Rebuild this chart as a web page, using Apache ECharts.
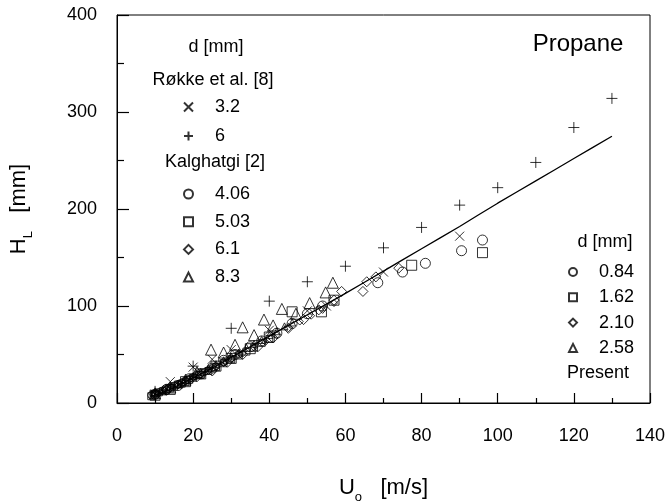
<!DOCTYPE html>
<html>
<head>
<meta charset="utf-8">
<script src="https://cdn.jsdelivr.net/npm/echarts@6/dist/echarts.min.js"></script>
<style>
    html, body { margin: 0; padding: 0; background: #fff; }
    #chart { width: 666px; height: 502px; }
</style>
</head>
<body>
<div id="chart"></div>
<script>
//刻度
const xTicks = [0, 20, 40, 60, 80, 100, 120, 140];
const yTicks = [0, 100, 200, 300, 400];

//Røkke et al. [8]
const rokke32 = [[10, 9], [14, 22], [20, 37], [25, 45], [30, 55], [40, 75], [50, 95], [55, 100], [70, 135], [90, 172]];
const rokke6 = [[10, 12], [20, 38], [30, 77], [40, 105], [50, 125], [60, 141], [70, 160], [80, 181], [90, 204], [100, 222], [110, 248], [120, 284], [130, 314]];

//Kalghatgi [2]
const kal406 = [[10, 9], [13, 14], [16, 18], [19, 25], [22, 30], [25, 36], [28, 44], [31, 50], [35, 58], [38, 64], [42, 72], [46, 82], [50, 92], [54, 100], [68.5, 124], [75, 135], [81, 144], [90.5, 157], [96, 168]];
const kal503 = [[10, 8], [14, 14], [18, 22], [22, 30], [26, 38], [30, 46], [35, 56], [40, 68], [46, 94], [53.7, 94], [57, 106], [77.4, 142], [96, 155]];
const kal61 = [[10, 9], [13, 13], [17, 20], [21, 27], [25, 33], [29, 42], [33, 50], [37, 58], [41, 67], [45, 77], [49, 86], [53, 96], [57, 106], [59, 115], [64.6, 115], [65.6, 125], [68, 130], [74, 139]];
const kal83 = [[10, 10], [14, 16], [18, 24], [21, 32], [24.7, 55], [28, 52], [31, 60], [33, 78], [36, 70], [38.6, 86], [41, 80], [43.3, 97], [47, 92], [50.6, 103], [54.8, 114], [56.7, 124]];

//Present
const pre084 = [[9, 8], [10, 10], [11, 11], [12, 13], [13, 14], [14, 16], [15, 18], [16, 19], [17, 21], [18, 23], [19, 25], [20, 27], [21, 29], [22, 30], [23, 32], [24, 34], [25, 36], [26, 38], [28, 42], [30, 46], [32, 50]];
const pre162 = [[9, 7], [10, 9], [11, 11], [12, 12], [13, 14], [14, 15], [15, 17], [16, 19], [17, 20], [18, 22], [19, 24], [20, 26], [22, 29], [24, 33], [26, 37], [28, 41], [30, 45], [32, 49], [34, 53], [36, 57], [38, 62], [40, 66]];
const pre210 = [[10, 9], [12, 12], [14, 15], [16, 18], [18, 22], [20, 26], [22, 29], [24, 33], [26, 37], [28, 41], [30, 45], [33, 51], [36, 57], [39, 63], [42, 70], [45, 77], [48, 84], [51, 90], [54, 96], [57, 103]];
const pre258 = [[10, 10], [12, 13], [14, 16], [16, 20], [18, 24], [20, 28], [22, 32], [24, 36], [26, 40], [28, 44], [30, 48], [32, 52], [34, 57], [36, 61], [38, 65], [40, 70], [42, 74], [44, 79], [46, 83]];

//拟合曲线
const fitLine = [[9, 7], [12, 11], [15, 16], [20, 26], [25, 36], [30, 47], [35, 58], [40, 69], [50, 91], [60, 113], [70, 136], [80, 159], [90, 182], [100, 206], [110, 229], [120, 252], [130, 275]];

const FONT = "Liberation Sans";
const CROSS = "path://M0,0L10,10M10,0L0,10";
const PLUS = "path://M5,0L5,10M0,5L10,5";

function hollow(name, data, symbol, size) {
    return {
        name: name,
        type: "scatter",
        data: data,
        symbol: symbol,
        symbolSize: size,
        itemStyle: { color: "rgba(255,255,255,0)", borderColor: "#000", borderWidth: 1 },
        z: 3
    };
}

//小点 (Present 符号中间的点)
function dots(data) {
    return {
        type: "scatter",
        data: data,
        symbol: "circle",
        symbolSize: 1.6,
        itemStyle: { color: "#000" },
        silent: true,
        z: 4
    };
}

function makeLegend(names, left, top, gap, size) {
    return {
        data: names,
        orient: "vertical",
        left: left,
        top: top,
        itemWidth: size,
        itemHeight: size,
        itemGap: gap,
        selectedMode: false,
        textStyle: { fontFamily: FONT, fontSize: 18, color: "#000", lineHeight: 18, padding: [0, 0, 0, 17] }
    };
}

function label(text, x, y, size) {
    return {
        type: "text",
        x: x,
        y: y,
        style: { text: text, fontFamily: FONT, fontSize: size, fill: "#000", align: "center", verticalAlign: "middle" }
    };
}

//坐标轴公共样式
function axisStyle(tickLen, minorLen, margin) {
    return {
        axisLine: { show: true, lineStyle: { color: "#000", width: 1 } },
        axisTick: { show: true, inside: true, length: tickLen, lineStyle: { color: "#000", width: 1.2 } },
        minorTick: { show: true, splitNumber: 2, length: minorLen, lineStyle: { color: "#000", width: 1.2 } },
        splitLine: { show: false },
        minorSplitLine: { show: false },
        axisLabel: { show: true, margin: margin, fontFamily: FONT, fontSize: 18, color: "#000" }
    };
}

let chart = echarts.init(document.getElementById("chart"));
chart.setOption({
    animation: false,
    backgroundColor: "#fff",
    grid: { left: 117, right: 16, top: 15, bottom: 99, show: true, borderColor: "#000", borderWidth: 1, outerBoundsMode: "none", containLabel: false },
    xAxis: Object.assign({
        type: "value",
        min: xTicks[0],
        max: xTicks[xTicks.length - 1],
        interval: xTicks[1] - xTicks[0],
        name: "{a|U}{s|o}{a|   [m/s]}",
        nameLocation: "middle",
        nameGap: 68,
        nameTextStyle: {
            rich: {
                a: { fontFamily: FONT, fontSize: 22, color: "#000" },
                s: { fontFamily: FONT, fontSize: 13, color: "#000", padding: [20, 0, 0, 0] }
            }
        }
    }, axisStyle(10, 5, 24)),
    yAxis: Object.assign({
        type: "value",
        min: yTicks[0],
        max: yTicks[yTicks.length - 1],
        interval: yTicks[1] - yTicks[0],
        name: "{a|H}{s|L}{a|   [mm]}",
        nameLocation: "middle",
        nameGap: 82,
        nameTextStyle: {
            rich: {
                a: { fontFamily: FONT, fontSize: 22, color: "#000" },
                s: { fontFamily: FONT, fontSize: 13, color: "#000", padding: [20, 0, 0, 0] }
            }
        }
    }, axisStyle(12, 7, 20)),
    legend: [
        makeLegend(["3.2", "6"], 178, 93, 11, 9),
        makeLegend(["4.06", "5.03", "6.1", "8.3"], 178, 180, 9.7, 9),
        makeLegend(["0.84", "1.62", "2.10", "2.58"], 563, 258, 7.3, 8)
    ],
    graphic: [
        label("Propane", 578, 44, 24),
        label("d [mm]", 216, 47, 18),
        label("Røkke et al. [8]", 213, 80, 18),
        label("Kalghatgi [2]", 215, 162, 18),
        label("d [mm]", 605, 242, 18),
        label("Present", 598, 373, 18)
    ],
    series: [
        {
            type: "line",
            data: fitLine,
            symbol: "none",
            smooth: 0.2,
            lineStyle: { color: "#000", width: 1.3 },
            z: 5
        },
        hollow("3.2", rokke32, CROSS, 9),
        hollow("6", rokke6, PLUS, 11),
        hollow("4.06", kal406, "circle", 10),
        hollow("5.03", kal503, "rect", 10),
        hollow("6.1", kal61, "diamond", 10),
        hollow("8.3", kal83, "triangle", 11),
        hollow("0.84", pre084, "circle", 7),
        hollow("1.62", pre162, "rect", 7),
        hollow("2.10", pre210, "diamond", 7),
        hollow("2.58", pre258, "triangle", 7),
        dots(pre084),
        dots(pre162),
        dots(pre258)
    ]
});
</script>
</body>
</html>
